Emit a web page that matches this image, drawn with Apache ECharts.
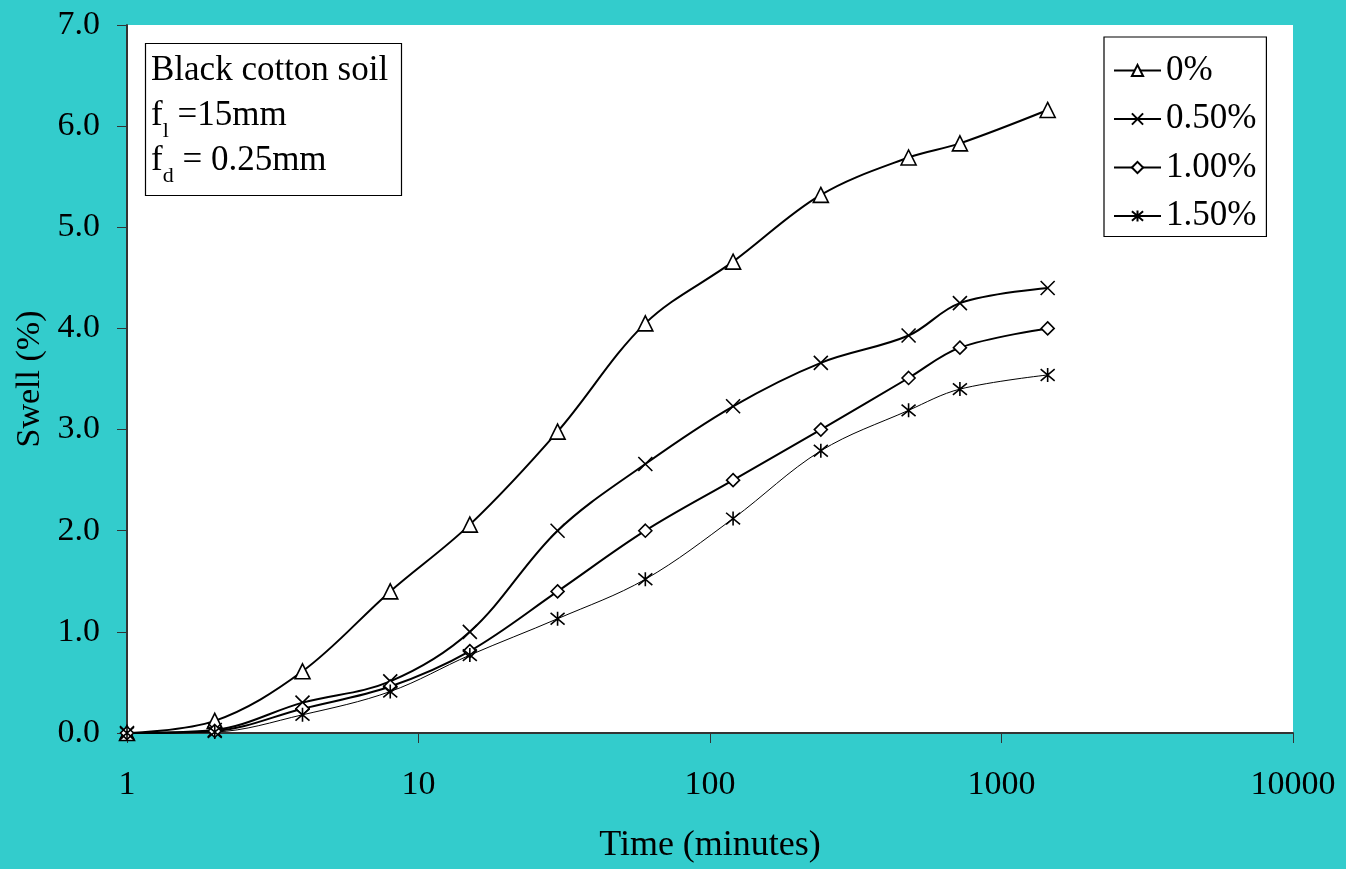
<!DOCTYPE html>
<html><head><meta charset="utf-8">
<script src="https://cdn.jsdelivr.net/npm/echarts@6/dist/echarts.min.js"></script>
<style>html,body{margin:0;padding:0;background:#33CCCC;}#c{width:1346px;height:869px;}</style>
</head><body><div id="c"></div>
<script>
const times = [1, 2, 4, 8, 15, 30, 60, 120, 240, 480, 720, 1440];
const seriesNames = ['0%', '0.50%', '1.00%', '1.50%'];
const swell0 = [0, 0.12, 0.61, 1.40, 2.06, 2.98, 4.05, 4.66, 5.32, 5.69, 5.83, 6.16];
const swell050 = [0, 0.03, 0.30, 0.51, 1.00, 2.00, 2.66, 3.23, 3.66, 3.93, 4.25, 4.40];
const swell100 = [0, 0.02, 0.24, 0.46, 0.81, 1.40, 2.00, 2.50, 3.00, 3.51, 3.81, 4.00];
const swell150 = [0, 0.01, 0.18, 0.41, 0.77, 1.13, 1.52, 2.12, 2.79, 3.19, 3.40, 3.54];
const xTicks = [1, 10, 100, 1000, 10000];
const yTicks = [0, 1, 2, 3, 4, 5, 6, 7];

const FONT = 'Liberation Serif';
const X_PATH = 'path://M0 0L10 10M10 0L0 10';
const STAR_PATH = 'path://M0 0L10 10M10 0L0 10M5 -1L5 11';

function pts(vals){ return times.map((t,i)=>[t, vals[i]]); }
function mk(name, vals, symbol, size, lw){
  return {
    name, type:'line', data: pts(vals), smooth:0.35,
    symbol, symbolSize:size, showSymbol:true,
    lineStyle:{color:'#000', width:lw},
    itemStyle:{color:'#fff', borderColor:'#000', borderWidth:1.6},
    z: 3
  };
}

const chart = echarts.init(document.getElementById('c'));
chart.setOption({
  backgroundColor:'#33CCCC',
  animation:false,
  title:{
    left:145, top:33,
    backgroundColor:'#fff', borderColor:'#000', borderWidth:1.2,
    padding:[10,14,9,6],
    text:'{a|Black cotton soil}\n{a|f}{s|l}{a| =15mm}\n{a|f}{s|d}{a| = 0.25mm}',
    textStyle:{
      fontWeight:'normal',
      rich:{
        a:{fontFamily:FONT, fontSize:35, fontWeight:'normal', color:'#000', lineHeight:45, verticalAlign:'bottom'},
        s:{fontFamily:FONT, fontSize:22, fontWeight:'normal', color:'#000', lineHeight:45, verticalAlign:'bottom', padding:[0,0,-9,0]}
      }
    }
  },
  legend:{
    orient:'vertical', left:1104, top:37,
    backgroundColor:'#fff', borderColor:'#000', borderWidth:1.2,
    padding:[16,10,3,9],
    itemWidth:47, itemHeight:14, itemGap:13.5,
    textStyle:{fontFamily:FONT, fontSize:35, color:'#000', lineHeight:35},
    data: seriesNames
  },
  grid:{left:127, right:53, top:25, bottom:133, backgroundColor:'#fff', show:true, borderWidth:0},
  xAxis:{
    type:'log', logBase:10, min:xTicks[0], max:xTicks[xTicks.length-1],
    name:'Time (minutes)', nameLocation:'middle', nameGap:95,
    nameTextStyle:{fontFamily:FONT, fontSize:36, color:'#000'},
    axisLine:{lineStyle:{color:'#333', width:2}},
    axisTick:{show:true, inside:false, length:10, lineStyle:{color:'#333', width:1}},
    minorTick:{show:false},
    splitLine:{show:false},
    axisLabel:{fontFamily:FONT, fontSize:34, color:'#000', margin:35,
      formatter:v=>String(Math.round(v))}
  },
  yAxis:{
    type:'value', min:yTicks[0], max:yTicks[yTicks.length-1], interval:1,
    name:'Swell (%)', nameLocation:'middle', nameGap:75,
    nameTextStyle:{fontFamily:FONT, fontSize:34, color:'#000'},
    axisLine:{show:true, lineStyle:{color:'#333', width:2}},
    axisTick:{show:true, inside:false, length:10, lineStyle:{color:'#333', width:1}},
    splitLine:{show:false},
    axisLabel:{fontFamily:FONT, fontSize:34, color:'#000', margin:27,
      formatter:v=>v.toFixed(1)}
  },
  series:[
    mk(seriesNames[0], swell0, 'triangle', 15, 2),
    mk(seriesNames[1], swell050, X_PATH, 14, 2),
    mk(seriesNames[2], swell100, 'diamond', 13, 2),
    mk(seriesNames[3], swell150, STAR_PATH, 14, 1)
  ]
});
</script></body></html>
